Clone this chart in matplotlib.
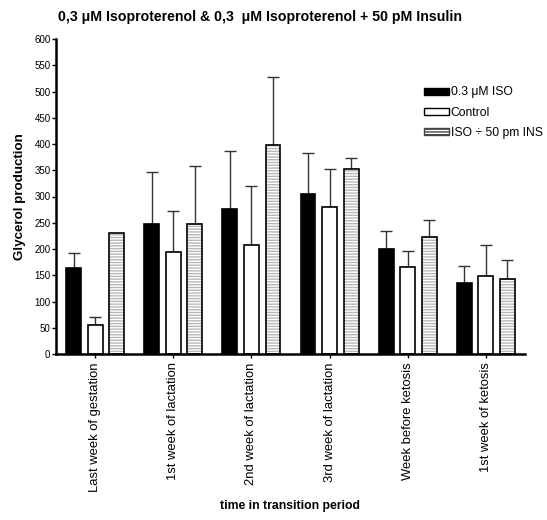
import numpy as np
import matplotlib.pyplot as plt
from matplotlib.patches import Patch

plt.rcParams['font.family'] = ['Liberation Sans', 'DejaVu Sans']

# Data
periods = ["Last week of gestation", "1st week of lactation", "2nd week of lactation",
           "3rd week of lactation", "Week before ketosis", "1st week of ketosis"]
iso_mean = [164, 247, 277, 304, 200, 136]
iso_err = [28, 100, 110, 79, 34, 32]
ctrl_mean = [55, 195, 208, 280, 165, 148]
ctrl_err = [15, 77, 112, 73, 32, 60]
ins_mean = [230, 248, 398, 352, 223, 142]
ins_err = [0, 111, 129, 21, 32, 37]

x = np.arange(len(periods))
w = 0.19
off = 0.276

fig = plt.figure(figsize=(5.47, 5.20), dpi=100)
ax = fig.add_axes([56 / 547, 1 - 354 / 520, (525 - 56) / 547, (354 - 39) / 520])

ekw = dict(ecolor="#333333", elinewidth=1.0, capsize=4, capthick=1.0)

# ISO bars
ax.bar(x - off, iso_mean, w, color="black", edgecolor="black", linewidth=1.2, zorder=2)
ax.errorbar(x - off, iso_mean, yerr=[np.zeros(6), iso_err], fmt="none", zorder=1, **ekw)

# Control bars
ax.bar(x, ctrl_mean, w, color="white", edgecolor="black", linewidth=1.2, zorder=2)
ax.errorbar(x, ctrl_mean, yerr=[np.zeros(6), ctrl_err], fmt="none", zorder=1, **ekw)

# ISO + INS bars (gray hatch, black outline)
ax.bar(x + off, ins_mean, w, color="white", edgecolor="#b8b8b8", hatch="------",
       linewidth=0, zorder=2)
ax.bar(x + off, ins_mean, w, color="none", edgecolor="black", linewidth=1.2, zorder=3)
has_err = np.array(ins_err) > 0
ins_e = np.array(ins_err)[has_err]
ax.errorbar((x + off)[has_err], np.array(ins_mean)[has_err],
            yerr=[np.zeros(len(ins_e)), ins_e], fmt="none", zorder=1, **ekw)

ax.set_xlim(-0.5, 5.5)
ax.set_ylim(0, 600)
ax.set_yticks(np.arange(0, 601, 50))
ax.set_xticks(x)
ax.set_xticklabels(periods, rotation=90, fontsize=9.4)
ax.tick_params(axis="y", labelsize=7, length=3, width=1, pad=1)
ax.tick_params(axis="x", length=3, width=1, pad=3)
for s in ["top", "right"]:
    ax.spines[s].set_visible(False)
for s in ["left", "bottom"]:
    ax.spines[s].set_linewidth(1.8)

ax.set_ylabel("Glycerol production", fontsize=9.6, fontweight="bold", labelpad=6)
ax.set_xlabel("time in transition period", fontsize=8.8, fontweight="bold", labelpad=6)
fig.text(260 / 547, 1 - 17 / 520, "0,3 μM Isoproterenol & 0,3  μM Isoproterenol + 50 pM Insulin",
         ha="center", va="center", fontsize=10.2, fontweight="bold")

# Legend
handles = [Patch(facecolor="black", edgecolor="black"),
           Patch(facecolor="white", edgecolor="black"),
           Patch(facecolor="white", edgecolor="#444444", hatch="------")]
ax.legend(handles, ["0.3 μM ISO", "Control", "ISO ÷ 50 pm INS"], loc="upper left",
          bbox_to_anchor=(0.761, 0.884), frameon=False, fontsize=8.7,
          handlelength=2.07, handleheight=0.55, handletextpad=0.15, labelspacing=0.67)

fig.savefig("out.png", dpi=100)
